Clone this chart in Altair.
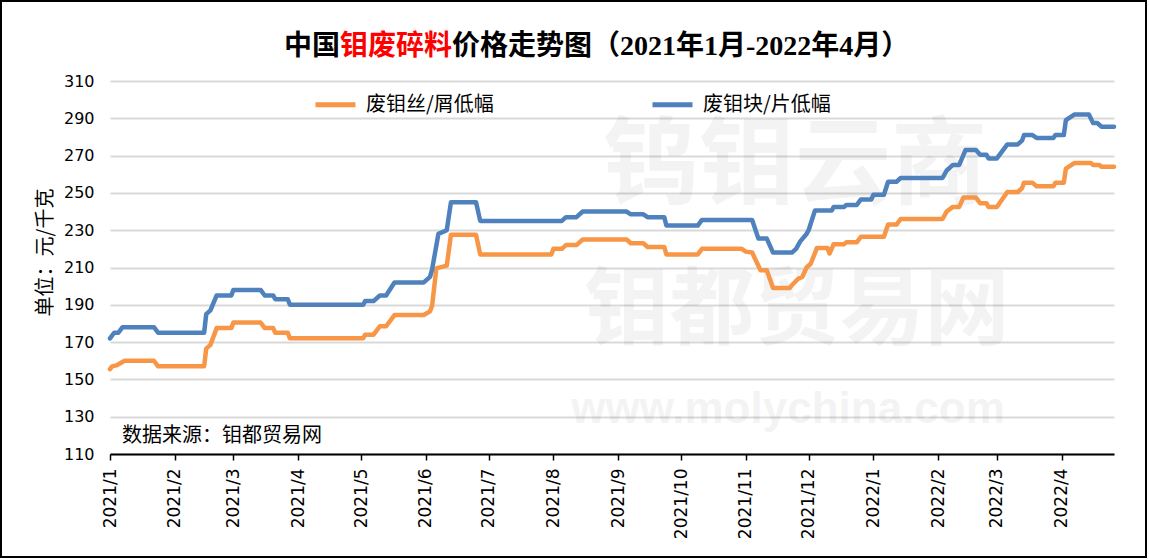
import altair as alt
import pandas as pd

# ---------------- data ----------------
blue_dates = [
    "2021-01-01", "2021-01-03", "2021-01-05", "2021-01-07", "2021-01-22", "2021-01-24",
    "2021-02-15", "2021-02-16", "2021-02-18", "2021-02-21", "2021-02-28", "2021-03-01",
    "2021-03-14", "2021-03-16", "2021-03-20", "2021-03-21", "2021-03-27", "2021-03-28",
    "2021-05-02", "2021-05-03", "2021-05-07", "2021-05-10", "2021-05-13", "2021-05-17",
    "2021-05-31", "2021-06-03", "2021-06-04", "2021-06-07", "2021-06-11", "2021-06-13",
    "2021-06-25", "2021-06-27", "2021-08-05", "2021-08-07", "2021-08-12", "2021-08-15",
    "2021-09-05", "2021-09-07", "2021-09-13", "2021-09-15", "2021-09-23", "2021-09-24",
    "2021-10-09", "2021-10-11", "2021-11-04", "2021-11-07", "2021-11-11", "2021-11-14",
    "2021-11-23", "2021-11-25", "2021-11-27", "2021-11-30", "2021-12-01", "2021-12-04",
    "2021-12-12", "2021-12-13", "2021-12-18", "2021-12-19", "2021-12-24", "2021-12-26",
    "2021-12-31", "2022-01-01", "2022-01-06", "2022-01-08", "2022-01-12", "2022-01-14",
    "2022-02-03", "2022-02-05", "2022-02-08", "2022-02-11", "2022-02-14", "2022-02-19",
    "2022-02-21", "2022-02-24", "2022-02-25", "2022-03-01", "2022-03-02", "2022-03-06",
    "2022-03-11", "2022-03-13", "2022-03-14", "2022-03-18", "2022-03-20", "2022-03-28",
    "2022-03-29", "2022-04-02", "2022-04-03", "2022-04-07", "2022-04-14", "2022-04-16",
    "2022-04-18", "2022-04-20", "2022-04-26",
]
blue_values = [
    172, 175, 175, 178, 178, 175,
    175, 185, 187, 195, 195, 198,
    198, 195, 195, 193, 193, 190,
    190, 192, 192, 195, 195, 202,
    202, 205, 209, 228, 230, 245,
    245, 235, 235, 237, 237, 240,
    240, 238.5, 238.5, 237, 237, 232.5,
    232.5, 235.5, 235.5, 225.5, 225.5, 218,
    218, 220, 224, 228, 230, 240.5,
    240.5, 242.5, 242.5, 243.5, 243.5, 246.5,
    246.5, 249, 249, 256, 256, 258,
    258, 262, 265, 265, 273, 273,
    270.5, 270.5, 268.5, 268.5, 270, 276,
    276, 278, 281, 281, 279.5, 279.5,
    281, 281, 289, 292, 292, 287.5,
    287.5, 285.5, 285.5,
]

orange_dates = [
    "2021-01-01", "2021-01-02", "2021-01-04", "2021-01-08", "2021-01-22", "2021-01-24",
    "2021-02-15", "2021-02-16", "2021-02-18", "2021-02-21", "2021-02-28", "2021-03-01",
    "2021-03-14", "2021-03-16", "2021-03-20", "2021-03-21", "2021-03-27", "2021-03-28",
    "2021-05-02", "2021-05-03", "2021-05-07", "2021-05-10", "2021-05-13", "2021-05-17",
    "2021-05-31", "2021-06-03", "2021-06-04", "2021-06-06", "2021-06-11", "2021-06-13",
    "2021-06-25", "2021-06-27", "2021-07-31", "2021-08-01", "2021-08-05", "2021-08-07",
    "2021-08-12", "2021-08-15", "2021-09-05", "2021-09-07", "2021-09-13", "2021-09-15",
    "2021-09-23", "2021-09-24", "2021-10-09", "2021-10-11", "2021-10-30", "2021-11-01",
    "2021-11-04", "2021-11-08", "2021-11-11", "2021-11-14", "2021-11-22", "2021-11-23",
    "2021-11-26", "2021-11-28", "2021-11-30", "2021-12-02", "2021-12-05", "2021-12-10",
    "2021-12-11", "2021-12-13", "2021-12-18", "2021-12-19", "2021-12-24", "2021-12-26",
    "2022-01-06", "2022-01-08", "2022-01-12", "2022-01-14", "2022-02-03", "2022-02-05",
    "2022-02-08", "2022-02-11", "2022-02-13", "2022-02-19", "2022-02-21", "2022-02-24",
    "2022-02-25", "2022-03-01", "2022-03-02", "2022-03-06", "2022-03-11", "2022-03-13",
    "2022-03-14", "2022-03-18", "2022-03-20", "2022-03-28", "2022-03-29", "2022-04-02",
    "2022-04-03", "2022-04-07", "2022-04-15", "2022-04-16", "2022-04-19", "2022-04-20",
    "2022-04-26",
]
orange_values = [
    155.5, 157, 157.5, 160, 160, 157,
    157, 166.5, 168.5, 177.5, 177.5, 180.5,
    180.5, 177.5, 177.5, 175, 175, 172,
    172, 174, 174, 178.5, 178.5, 184.5,
    184.5, 186.5, 189.5, 209.5, 211, 227.5,
    227.5, 217, 217, 220, 220, 222,
    222, 225, 225, 223, 223, 221,
    221, 217, 217, 220, 220, 218.5,
    218, 208.5, 208.5, 199, 199, 200.5,
    204, 205, 210, 212, 220.5, 220.5,
    217.5, 222.5, 222.5, 223.5, 223.5, 226.5,
    226.5, 233, 233, 236, 236, 240,
    242.5, 242.5, 247.5, 247.5, 244.5, 244.5,
    242.5, 242.5, 244, 250.5, 250.5, 252.5,
    255.5, 255.5, 253.5, 253.5, 255.5, 255.5,
    263, 266, 266, 265, 265, 264,
    264,
]

series_names = ["废钼丝/屑低幅", "废钼块/片低幅"]
series_colors = ["#F79646", "#4F81BD"]

y_ticks = [110, 130, 150, 170, 190, 210, 230, 250, 270, 290, 310]
month_ticks = [(2021, m) for m in range(1, 13)] + [(2022, m) for m in range(1, 5)]

title_parts = ["中国", "钼废碎料", "价格走势图（2021年1月-2022年4月）"]
source_text = "数据来源：钼都贸易网"
watermarks = ["钨钼云商", "钼都贸易网", "www.molychina.com"]

# ---------------- build ----------------
df = pd.concat([
    pd.DataFrame({"date": orange_dates, "price": orange_values, "series": series_names[0]}),
    pd.DataFrame({"date": blue_dates, "price": blue_values, "series": series_names[1]}),
], ignore_index=True)

W, H = 1004, 373
PL, PT = 110, 81
CJK = "Noto Sans CJK SC"
TITLE_FONT = "Liberation Serif, Noto Sans CJK SC"

x_dom = [alt.DateTime(year=2021, month=1, date=1, utc=True),
         alt.DateTime(year=2022, month=4, date=26, utc=True)]
x_vals = [alt.DateTime(year=y, month=m, date=1, utc=True) for y, m in month_ticks]

dummy = alt.Data(values=[{"a": 1}])

# watermark (very light)
wm1 = alt.Chart(dummy).mark_text(text=watermarks[0], font=CJK, fontSize=96, fontWeight="bold",
                                 fill="black", opacity=0.045, align="center", baseline="middle").encode(
    x=alt.value(795 - PL), y=alt.value(167 - PT))
wm2 = alt.Chart(dummy).mark_text(text=watermarks[1], font=CJK, fontSize=85, fontWeight="bold",
                                 fill="black", opacity=0.045, align="center", baseline="middle").encode(
    x=alt.value(797 - PL), y=alt.value(312 - PT))
wm3 = alt.Chart(dummy).mark_text(text=watermarks[2], font="Liberation Sans", fontSize=44, fontWeight="bold",
                                 fill="black", opacity=0.045, align="center", baseline="middle").encode(
    x=alt.value(788 - PL), y=alt.value(410 - PT))

lines = alt.Chart(df).mark_line(strokeWidth=4.5, strokeCap="round", strokeJoin="round").encode(
    x=alt.X("date:T",
            scale=alt.Scale(type="utc", domain=x_dom),
            axis=alt.Axis(values=x_vals, labelExpr="utcFormat(datum.value, '%Y/%-m')",
                          labelAngle=270, labelAlign="right", labelBaseline="middle",
                          labelFont="DejaVu Sans", labelFontSize=17, labelColor="black",
                          labelPadding=8, labelOverlap=False, labelFlush=False, labelBound=False,
                          grid=False, domainColor="black", domainWidth=2,
                          tickColor="black", tickSize=6, tickWidth=1.5, title=None)),
    y=alt.Y("price:Q",
            scale=alt.Scale(domain=[110, 310], nice=False, zero=False),
            axis=alt.Axis(values=y_ticks, grid=True, gridColor="#d9d9d9", gridWidth=2,
                          domain=False, ticks=False, labelPadding=16,
                          labelFont="DejaVu Sans", labelFontSize=16, labelColor="black",
                          title="单位：元/千克", titleFont=CJK, titleFontSize=20,
                          titleFontWeight="normal", titleColor="black", titleAngle=270,
                          titleX=45 - PL, titleY=252 - PT, titleAlign="center",
                          titleBaseline="middle")),
    color=alt.Color("series:N",
                    scale=alt.Scale(domain=series_names, range=series_colors),
                    sort=series_names,
                    legend=alt.Legend(title=None, orient="none", legendX=313 - PL, legendY=82 - PT,
                                      direction="horizontal", symbolType="stroke",
                                      symbolSize=1600, symbolStrokeWidth=5,
                                      labelFont=CJK, labelFontSize=20, labelColor="black",
                                      labelOffset=8, columnPadding=148, labelLimit=400)),
    order=alt.Order("date:T"),
)

t_size = 28
t_x0 = 284 - PL
t_y = 47 - PT
title1 = alt.Chart(dummy).mark_text(text=title_parts[0], font=TITLE_FONT, fontSize=t_size, fontWeight="bold",
                                    fill="black", align="left", baseline="middle").encode(
    x=alt.value(t_x0), y=alt.value(t_y))
title2 = alt.Chart(dummy).mark_text(text=title_parts[1], font=TITLE_FONT, fontSize=t_size, fontWeight="bold",
                                    fill="#FF0000", align="left", baseline="middle").encode(
    x=alt.value(t_x0 + 2 * t_size), y=alt.value(t_y))
title3 = alt.Chart(dummy).mark_text(text=title_parts[2], font=TITLE_FONT, fontSize=t_size, fontWeight="bold",
                                    fill="black", align="left", baseline="middle").encode(
    x=alt.value(t_x0 + 6 * t_size), y=alt.value(t_y))

source = alt.Chart(dummy).mark_text(text=source_text, font=CJK, fontSize=20,
                                    fill="black", align="left", baseline="middle").encode(
    x=alt.value(122 - PL), y=alt.value(436 - PT))

frame = alt.Chart(dummy).mark_rect(fillOpacity=0, stroke="black", strokeWidth=2).encode(
    x=alt.value(1 - PL), x2=alt.value(1146 - PL), y=alt.value(1 - PT), y2=alt.value(557 - PT))

chart = alt.layer(wm1, wm2, wm3, lines, title1, title2, title3, source, frame).properties(
    width=W, height=H,
    padding={"left": PL, "top": PT, "right": 1149 - PL - W, "bottom": 560 - PT - H},
    autosize=alt.AutoSizeParams(type="none"),
    background="white",
).configure_view(stroke=None)

chart.save("out.html", embed_options={"renderer": "svg", "actions": False})
